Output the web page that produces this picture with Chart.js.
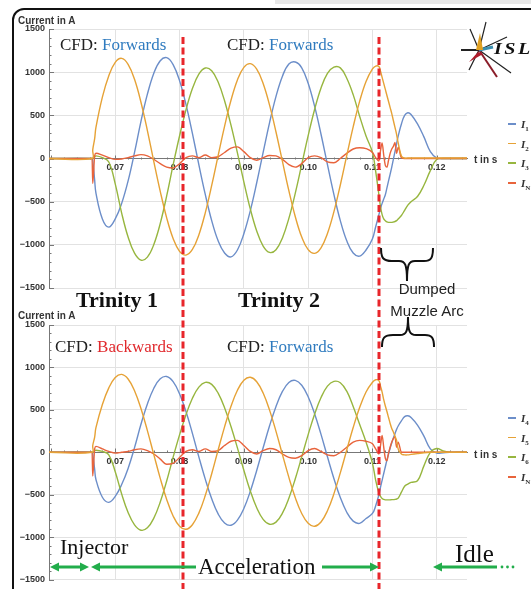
<!DOCTYPE html>
<html>
<head>
<meta charset="utf-8">
<script src="https://cdn.jsdelivr.net/npm/chart.js@4.4.1/dist/chart.umd.min.js"></script>
<style>
  html, body { margin: 0; padding: 0; background: #fff; }
  body { width: 531px; height: 589px; position: relative; overflow: hidden; }
  canvas { position: absolute; left: 0; }
  #c1 { top: 0; }
  #c2 { top: 296px; }
  .faixa { position: absolute; left: 275px; top: 0; width: 256px; height: 4px; background: #e8e8e8; }
  .moldura { position: absolute; left: 12px; top: 8px; width: 545px; height: 600px;
             border: 2.5px solid #111; border-radius: 12px; box-sizing: border-box; }
  .t { position: absolute; white-space: nowrap; line-height: 1; }
  .ax { font: bold 10px "Liberation Sans", Arial, sans-serif; color: #333; }
  .cfd { font: 17px "Liberation Serif", "Times New Roman", serif; color: #222; }
  .azul { color: #2f7bbf; }
  .verm { color: #e0282c; }
  .trin { font: bold 22px "Liberation Serif", serif; color: #111; }
  .ann { font: 15px "Liberation Sans", Arial, sans-serif; color: #222; text-align: center; width: 90px; }
  .fase { font: 22px "Liberation Serif", serif; color: #111; }
  .leg { font: bold italic 11px "Liberation Serif", serif; color: #333; }
  .leg sub { font-size: 7px; font-style: normal; }
  .traco { position: absolute; height: 1.5px; width: 8px; }
  .logo { font: bold italic 16px "Liberation Serif", serif; color: #111; letter-spacing: 2px;
          transform: scaleX(1.25); transform-origin: left top; }
  svg { position: absolute; left: 0; top: 0; }
</style>
</head>
<body>
<div class="faixa"></div>
<div class="moldura"></div>
<canvas id="c1" width="531" height="300"></canvas>
<canvas id="c2" width="531" height="293"></canvas>

<svg width="531" height="589" viewBox="0 0 531 589">
  <!-- limites Trinity -->
  <line x1="183" y1="37" x2="183" y2="589" stroke="#e8262b" stroke-width="3" stroke-dasharray="7 3.5"/>
  <line x1="379" y1="37" x2="379" y2="589" stroke="#e8262b" stroke-width="3" stroke-dasharray="7 3.5"/>

  <!-- chaves -->
  <path d="M381,248 C381,258 383,261 392,261 L399,261 C405,261 407,264 407,281 C407,264 409,261 415,261 L424,261 C431,261 433,258 433,248"
        fill="none" stroke="#111" stroke-width="2"/>
  <path d="M382,347 C382,338 384,335 393,335 L400,335 C406,335 408,332 408,317 C408,332 410,335 416,335 L425,335 C432,335 434,338 434,347"
        fill="none" stroke="#111" stroke-width="2"/>

  <!-- setas verdes -->
  <g stroke="#22ad4b" stroke-width="3" fill="#22ad4b">
    <line x1="55" y1="567" x2="84" y2="567"/>
    <line x1="96" y1="567" x2="196" y2="567"/>
    <line x1="322" y1="567" x2="373" y2="567"/>
    <line x1="438" y1="567" x2="497" y2="567"/>
  </g>
  <g fill="#22ad4b">
    <polygon points="50,567 59,562.5 59,571.5"/>
    <polygon points="89,567 80,562.5 80,571.5"/>
    <polygon points="91,567 100,562.5 100,571.5"/>
    <polygon points="379,567 370,562.5 370,571.5"/>
    <polygon points="433,567 442,562.5 442,571.5"/>
    <circle cx="502" cy="567" r="1.4"/>
    <circle cx="507.5" cy="567" r="1.4"/>
    <circle cx="513" cy="567" r="1.4"/>
  </g>

  <!-- logo ISL -->
  <g stroke="#222" stroke-width="1.2">
    <line x1="479" y1="50" x2="486" y2="22"/>
    <line x1="479" y1="50" x2="470" y2="29"/>
    <line x1="479" y1="50" x2="507" y2="37"/>
    <line x1="479" y1="50" x2="511" y2="73"/>
    <line x1="479" y1="50" x2="469" y2="70"/>
    <line x1="479" y1="50" x2="461" y2="50" stroke-width="2"/>
    <line x1="479" y1="50" x2="497" y2="77" stroke="#8a1c28" stroke-width="2"/>
    <line x1="479" y1="50" x2="493" y2="47" stroke="#3a8fb0" stroke-width="3"/>
  </g>
  <polygon points="476,50 480,33 483,50" fill="#e0a020"/>
  <polygon points="478,52 469,62 483,54" fill="#b01c2c"/>
</svg>
<div class="t logo" style="left:494px; top:40px;">ISL</div>

<div class="t ax" style="left:18px; top:15px;">Current in A</div>
<div class="t ax" style="left:18px; top:310px;">Current in A</div>
<div class="t ax" style="left:474px; top:154px;">t in s</div>
<div class="t ax" style="left:474px; top:449px;">t in s</div>

<div class="t cfd" style="left:60px; top:35px;">CFD: <span class="azul">Forwards</span></div>
<div class="t cfd" style="left:227px; top:35px;">CFD: <span class="azul">Forwards</span></div>
<div class="t cfd" style="left:55px; top:337px;">CFD: <span class="verm">Backwards</span></div>
<div class="t cfd" style="left:227px; top:337px;">CFD: <span class="azul">Forwards</span></div>

<div class="t trin" style="left:76px; top:287px;">Trinity 1</div>
<div class="t trin" style="left:238px; top:287px;">Trinity 2</div>

<div class="t ann" style="left:382px; top:280px;">Dumped</div>
<div class="t ann" style="left:382px; top:302px;">Muzzle Arc</div>

<div class="t fase" style="left:60px; top:534px;">Injector</div>
<div class="t fase" style="left:198px; top:554px; font-size:23px;">Acceleration</div>
<div class="t fase" style="left:455px; top:540px; font-size:25px;">Idle</div>

<div id="legendas"></div>

<script>
// ===== DADOS =====
const tempos = [
  0.0597, 0.0664, 0.0665, 0.0668,
  0.067, 0.068, 0.069, 0.070, 0.071, 0.072, 0.073, 0.074, 0.075, 0.076,
  0.077, 0.078, 0.079, 0.080, 0.081, 0.082, 0.083, 0.084, 0.085, 0.086,
  0.087, 0.088, 0.089, 0.090, 0.091, 0.092, 0.093, 0.094, 0.095, 0.096,
  0.097, 0.098, 0.099, 0.100, 0.101, 0.102, 0.103, 0.104, 0.105, 0.106,
  0.107, 0.108, 0.109, 0.110, 0.1105,
  0.111, 0.11125, 0.1115, 0.11175, 0.112, 0.11225, 0.1125, 0.11275, 0.113, 0.11325, 0.1135, 0.11375, 0.114,
  0.1145, 0.115, 0.1155, 0.116, 0.117, 0.118, 0.119, 0.120, 0.121, 0.122, 0.123, 0.124, 0.1247
];

// grafico de cima: CFD forwards / forwards
const i1 = [
  0, 0, -20, -250,
  -400, -700, -795, -700, -520, -260, 70, 431, 745, 988,
  1133, 1168, 1088, 902, 627, 291, -71, -416, -720, -954,
  -1095, -1140, -1060, -871, -606, -281, 71, 416, 720, 954,
  1095, 1118, 1051, 871, 606, 281, -71, -416, -720, -954,
  -1095, -1130, -1060, -930, -790,
  -650, -580, -520, -470, -420, -340, -260, -180, -100, -10, 80, 170, 260,
  400, 500, 530, 510, 400, 250, 80, 5, 0, 0, 0, 0, 0
];
const i2 = [
  0, 0, 100, 230,
  360, 711, 959, 1114, 1160, 1091, 917, 652, 324, -35,
  -380, -687, -926, -1075, -1119, -1054, -885, -629, -312, 34,
  373, 674, 910, 1056, 1099, 1035, 869, 618, 307, -34,
  -373, -674, -910, -1056, -1099, -1035, -869, -618, -307, 33,
  366, 662, 893, 1037, 1070,
  1065, 1010, 940, 870, 800, 730, 660, 590, 520, 440, 360, 280, 180,
  30, 5, 5, 5, 5, 5, 5, 5, 5, 5, 5, 5, 5
];
const i3 = [
  0, 0, 0, 20,
  30, 10, -40, -294, -632, -910, -1097, -1178, -1143, -996,
  -752, -434, -74, 261, 563, 810, 976, 1048, 1017, 886,
  669, 386, 66, -271, -584, -840, -1014, -1088, -1056, -920,
  -694, -401, -69, 264, 568, 817, 986, 1058, 1050, 930,
  740, 490, 260, 70, -150,
  -420, -560, -650, -700, -720, -735, -740, -740, -740, -735, -730, -720, -700,
  -660, -600, -540, -500, -440, -310, -140, -10, 0, 0, 0, 0, 0
];
const iN1 = [
  0, 0, -290, 30,
  60, 40, 10, -10, -5, 10, 30, 45, 30, -10,
  -60, -100, -110, -60, 10, 30, 10, 40, 10, 20,
  70, 120, 135, 80, 10, -20, 10, 35, 30, -10,
  -70, -100, -60, 10, 30, 10, -40, -50, 0, 60,
  110, 125, 115, 70, 10,
  -30, 90, 180, 40, -80, -100, -20, 60, 110, 140, 185, 60, 130,
  10, 0, 0, 0, 0, 0, 0, 0, 0, 0, 0, 0, 0
];

// grafico de baixo: CFD backwards / forwards
const i4 = [
  0, 0, -20, -200,
  -320, -530, -590, -520, -380, -190, 55, 330, 570, 755,
  867, 893, 832, 690, 480, 223, -54, -316, -548, -726,
  -833, -860, -800, -663, -461, -214, 53, 312, 541, 717,
  823, 847, 790, 655, 455, 211, -53, -308, -533, -706,
  -811, -837, -780, -720, -630,
  -500, -410, -330, -250, -170, -90, -20, 50, 110, 170, 220, 270, 310,
  370, 420, 430, 410, 320, 190, 40, -10, -5, 0, 0, 0, 0
];
const i5 = [
  0, 0, 80, 180,
  290, 563, 759, 881, 918, 864, 725, 516, 256, -28,
  -307, -556, -750, -871, -907, -853, -717, -510, -253, 27,
  300, 542, 731, 849, 884, 832, 698, 497, 247, -27,
  -296, -535, -721, -837, -872, -821, -689, -490, -243, 27,
  292, 527, 711, 826, 855,
  845, 780, 710, 620, 545, 480, 410, 340, 280, 240, 190, 140, 40,
  -20, -30, -30, -25, -15, -5, 0, 0, 0, 0, 0, 0, 0
];
const i6 = [
  0, 0, 0, 15,
  25, 10, -30, -229, -492, -709, -855, -918, -890, -776,
  -586, -338, -58, 205, 443, 637, 768, 824, 800, 697,
  526, 304, 52, -211, -455, -654, -790, -848, -823, -717,
  -541, -312, -54, 208, 449, 645, 779, 836, 820, 720,
  540, 330, 120, -130, -330,
  -480, -520, -545, -555, -560, -560, -560, -560, -558, -558, -555, -550, -540,
  -470, -400, -375, -355, -335, -160, 0, 45, 15, 0, 0, 0, 0
];
const iN2 = [
  0, 0, -280, 40,
  70, 40, 10, -10, 0, 10, 30, 40, 20, -20,
  -80, -140, -130, -60, 10, 30, 10, 40, 10, 20,
  80, 130, 140, 80, 10, -20, 20, 45, 30, -20,
  -60, -70, -40, 20, 45, 10, -30, -40, 0, 60,
  120, 140, 130, 100, 40,
  -20, 80, 200, 60, -70, -100, -10, 60, 120, 160, 185, 60, 120,
  0, 0, 0, 0, 0, 0, 0, 0, 0, 0, 0, 0, 0
];

const xTicks = [0.07, 0.08, 0.09, 0.10, 0.11, 0.12];
const yTicks = [-1500, -1000, -500, 0, 500, 1000, 1500];
const subsCima = ["1", "2", "3", "N"];
const subsBaixo = ["4", "5", "6", "N"];
const cores = ["#6c8ec9", "#e6a236", "#97b63f", "#e8643c"];
const ordem = [3, 0, 2, 1]; // laranja por cima, depois o neutro

// ===== MARCAS DE EIXO (estilo Mathematica) =====
const marcasEixo = {
    id: "marcasEixo",
    beforeDatasetsDraw(chart) {
        const { ctx, chartArea, scales: { x, y } } = chart;
        ctx.save();
        ctx.strokeStyle = "#777";
        ctx.lineWidth = 1;
        ctx.beginPath();
        for (let v = -1500; v <= 1500; v += 100) {
            const py = Math.round(y.getPixelForValue(v)) + 0.5;
            const len = v % 500 === 0 ? 5 : 2.5;
            ctx.moveTo(chartArea.left, py);
            ctx.lineTo(chartArea.left + len, py);
        }
        const y0 = Math.round(y.getPixelForValue(0)) + 0.5;
        for (let k = 30; k <= 62; k++) {
            const px = Math.round(x.getPixelForValue(k / 500)) + 0.5;
            const len = k % 5 === 0 ? 4 : 2;
            ctx.moveTo(px, y0);
            ctx.lineTo(px, y0 - len);
        }
        ctx.stroke();
        ctx.restore();
    }
};

const fonteTick = { family: "Liberation Sans", size: 9, weight: "bold" };

function criarGrafico(id, series, subs, padTop, padBottom) {
    return new Chart(document.getElementById(id), {
        type: "line",
        data: {
            datasets: series.map((s, i) => ({
                label: "I" + subs[i],
                data: tempos.map((t, k) => ({ x: t, y: s[k] })),
                borderColor: cores[i],
                borderWidth: 1.4,
                pointRadius: 0,
                tension: i === 3 ? 0 : 0.4,
                cubicInterpolationMode: i === 3 ? "monotone" : "default",
                order: ordem[i]
            }))
        },
        options: {
            responsive: false,
            animation: false,
            events: [],
            layout: { padding: { left: 0, top: padTop, right: 64, bottom: padBottom } },
            plugins: { legend: { display: false }, tooltip: { enabled: false } },
            scales: {
                x: {
                    type: "linear",
                    min: 0.0597,
                    max: 0.1247,
                    position: { y: 0 },
                    afterBuildTicks: s => { s.ticks = xTicks.map(v => ({ value: v })); },
                    afterFit: s => { s.height = 0; },
                    ticks: {
                        callback: v => v.toFixed(2),
                        font: fonteTick, color: "#333", padding: 4,
                        maxRotation: 0, autoSkip: false
                    },
                    grid: { color: "#e2e2e2", drawTicks: false },
                    border: { color: "#777", width: 1 }
                },
                y: {
                    min: -1500,
                    max: 1500,
                    afterBuildTicks: s => { s.ticks = yTicks.map(v => ({ value: v })); },
                    afterFit: s => { s.width = 49; },
                    ticks: {
                        callback: v => v < 0 ? "\u2212" + (-v) : String(v),
                        font: fonteTick, color: "#333", padding: 4
                    },
                    grid: { color: "#e2e2e2", drawTicks: false },
                    border: { color: "#777", width: 1 }
                }
            }
        },
        plugins: [marcasEixo]
    });
}

criarGrafico("c1", [i1, i2, i3, iN1], subsCima, 29, 12);
criarGrafico("c2", [i4, i5, i6, iN2], subsBaixo, 29, 6);

/* ===== LEGENDAS ===== */
function legenda(topo, subs) {
    const box = document.getElementById("legendas");
    subs.forEach((s, i) => {
        const cy = topo + i * 19.6;
        const tr = document.createElement("div");
        tr.className = "traco";
        tr.style.left = "508px";
        tr.style.top = (cy - 0.75) + "px";
        tr.style.background = cores[i];
        box.appendChild(tr);
        const tx = document.createElement("div");
        tx.className = "t leg";
        tx.style.left = "521px";
        tx.style.top = (cy - 6) + "px";
        tx.innerHTML = "<i>I</i><sub>" + s + "</sub>";
        box.appendChild(tx);
    });
}
legenda(124, subsCima);
legenda(418, subsBaixo);
</script>
</body>
</html>
